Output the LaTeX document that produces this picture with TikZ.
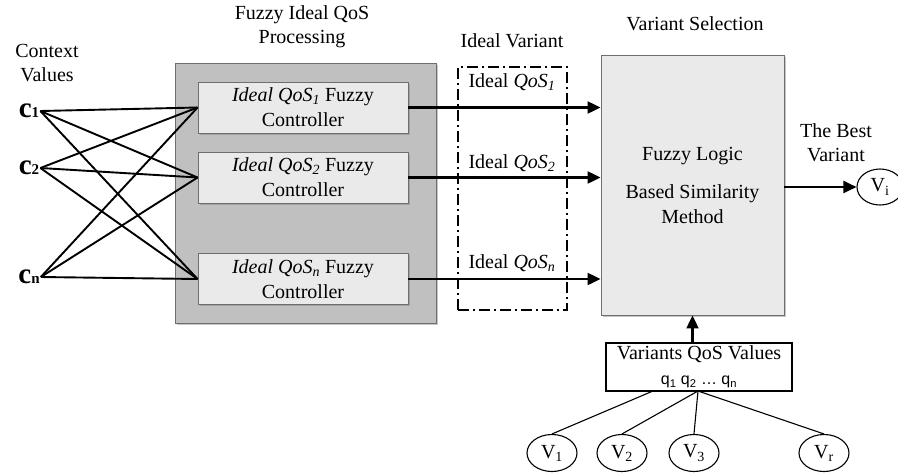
\documentclass[tikz,border=0pt]{standalone}
\usepackage{fontspec}
\setmainfont{Liberation Serif}
\setsansfont{Liberation Sans}
\usetikzlibrary{shapes.geometric,arrows.meta,shadows}
\definecolor{outergray}{RGB}{192,192,192}
\definecolor{innergray}{RGB}{234,234,234}
\definecolor{edgegray}{RGB}{110,110,110}
\begin{document}
\begin{tikzpicture}[x=1pt,y=-1pt,
  every node/.style={font=\fontsize{20}{24}\selectfont, inner sep=0pt},
  title/.style={align=center},
  fanline/.style={line width=1.9pt},
  arr/.style={line width=2.2pt,-{Triangle[length=13pt,width=12pt]}},
  boxshadow/.style={drop shadow={shadow xshift=1.5pt,shadow yshift=-1.5pt,opacity=0.45,fill=gray}},
  outerbox/.style={draw=edgegray,fill=outergray,line width=0.9pt,minimum width=261pt,minimum height=260pt,boxshadow},
  ctrlbox/.style={draw=edgegray,fill=innergray,line width=0.9pt,minimum width=210pt,minimum height=51pt,align=center,font=\fontsize{20}{25}\selectfont,boxshadow},
  selbox/.style={draw=edgegray,fill=innergray,line width=0.9pt,minimum width=183pt,minimum height=260pt,align=center,font=\fontsize{20}{25}\selectfont,boxshadow},
  idealbox/.style={draw,line width=1.4pt,dash pattern=on 11pt off 4pt on 2pt off 4pt,minimum width=109pt,minimum height=243pt},
  valbox/.style={draw,line width=1.1pt,fill=white,minimum width=186pt,minimum height=48pt,align=center,font=\fontsize{20}{25}\selectfont},
  vnode/.style={ellipse,draw,line width=1.1pt,fill=white,minimum width=50pt,minimum height=37pt},
  cval/.style={inner sep=1pt,font=\fontsize{29}{30}\selectfont\bfseries}
]
\useasboundingbox (0,0) rectangle (898,475);

% titles
\node[title] (tctx) at (47,63.5) {Context\\Values};
\node[title] (tfuz) at (302,27) {Fuzzy Ideal QoS\\Processing};
\node[title] (tiv) at (512,41) {Ideal Variant};
\node[title] (tvs) at (695,24) {Variant Selection};
\node[title] (tbest) at (836,143) {The Best\\Variant};

% context values
\node[cval] (c1) at (29,111) {c{\fontsize{15}{15}\selectfont 1}};
\node[cval] (c2) at (29,168) {c{\fontsize{15}{15}\selectfont 2}};
\node[cval] (cn) at (29,277) {c{\fontsize{15}{15}\selectfont n}};

% fuzzy processing block
\node[outerbox] (outer) at (305.5,193) {};
\node[ctrlbox] (k1) at (303,107.5) {\textit{Ideal QoS\textsubscript{1}} Fuzzy\\Controller};
\node[ctrlbox] (k2) at (303,177.5) {\textit{Ideal QoS\textsubscript{2}} Fuzzy\\Controller};
\node[ctrlbox] (kn) at (303,279) {\textit{Ideal QoS\textsubscript{n}} Fuzzy\\Controller};

% fan connections
\foreach \s in {c1,c2,cn}{
  \foreach \t in {k1,k2,kn}{
    \draw[fanline] (\s.east) -- (\t.west);
  }
}

% ideal variant box
\node[idealbox] (ideal) at (512.5,188.5) {};
\node (l1) at (512,82) {Ideal \textit{QoS\textsubscript{1}}};
\node (l2) at (512,163) {Ideal \textit{QoS\textsubscript{2}}};
\node (ln) at (512,263) {Ideal \textit{QoS\textsubscript{n}}};

% selection box
\node[selbox] (sel) at (692.5,185) {Fuzzy Logic\\[13pt]Based Similarity\\Method};

% arrows to selection
\draw[arr] (k1.east) -- (k1.east -| sel.west);
\draw[arr] (k2.east) -- (k2.east -| sel.west);
\draw[arr] (kn.east) -- (kn.east -| sel.west);

% best variant
\node[vnode,minimum width=46pt,minimum height=36pt] (vi) at (880,187) {V\textsubscript{i}};
\draw[arr] (sel.east |- vi.west) -- (vi.west);

% variants QoS values
\node[valbox] (vq) at (699,367) {Variants QoS Values\\{\sffamily\fontsize{16}{18}\selectfont q\textsubscript{1} q\textsubscript{2} … q\textsubscript{n}}};
\draw[arr] (sel.south |- vq.north) -- (sel.south);

\node[vnode] (v1) at (552,453) {V\textsubscript{1}};
\node[vnode] (v2) at (622,453) {V\textsubscript{2}};
\node[vnode] (v3) at (694,453) {V\textsubscript{3}};
\node[vnode] (vr) at (824,453) {V\textsubscript{r}};

\coordinate (qa) at (653,391);
\coordinate (qb) at (698,391);
\draw[line width=1.1pt] (qa) -- (v1.north);
\draw[line width=1.1pt] (qb) -- (v2.north);
\draw[line width=1.1pt] (qb) -- (v3.north);
\draw[line width=1.1pt] (qb) -- (vr.north);
\end{tikzpicture}
\end{document}
